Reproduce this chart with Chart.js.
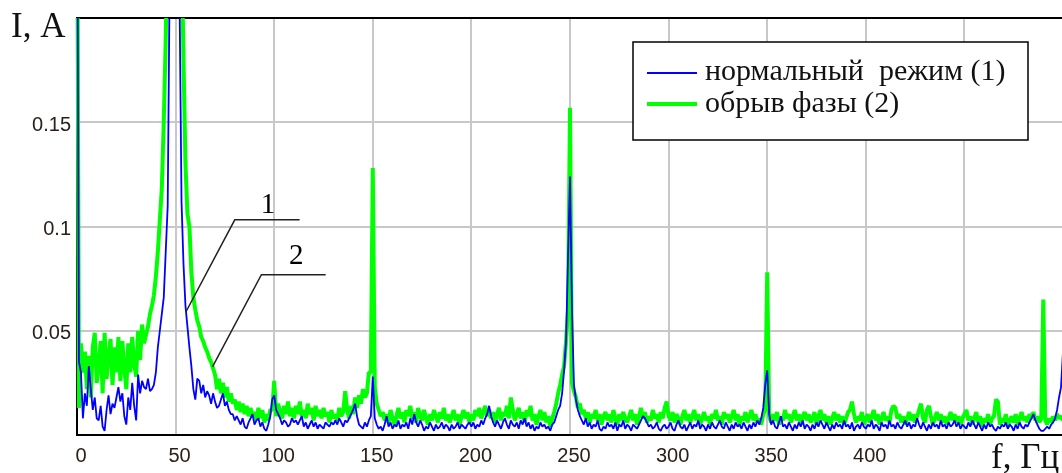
<!DOCTYPE html>
<html><head><meta charset="utf-8">
<script src="https://cdn.jsdelivr.net/npm/chart.js@4.4.1/dist/chart.umd.min.js"></script>
<style>html,body{margin:0;padding:0;overflow:hidden;background:#fff}</style>
</head><body>
<canvas id="c" width="1072" height="473"></canvas>
<script>
// sampling step of the spectrum (Hz per sample)
const freqStepHz = 1;

// current spectrum, normal mode (1), A
const normalMode = [
0.300,0.035,0.030,0.008,0.020,0.014,0.033,0.022,0.012,0.018,
0.008,0.007,0.014,0.004,0.002,0.012,0.019,0.010,0.015,0.013,
0.018,0.023,0.016,0.020,0.009,0.005,0.018,0.012,0.025,0.014,
0.007,0.029,0.020,0.026,0.023,0.022,0.027,0.021,0.022,0.024,
0.030,0.042,0.050,0.058,0.066,0.088,0.110,0.220,0.300,0.330,
0.340,0.300,0.210,0.112,0.082,0.062,0.052,0.042,0.033,0.022,
0.017,0.027,0.026,0.020,0.024,0.018,0.021,0.019,0.015,0.020,
0.016,0.013,0.014,0.017,0.020,0.014,0.016,0.012,0.010,0.010,
0.007,0.009,0.007,0.005,0.008,0.004,0.003,0.006,0.008,0.010,
0.005,0.007,0.008,0.004,0.006,0.003,0.002,0.005,0.009,0.017,
0.019,0.012,0.010,0.008,0.005,0.007,0.006,0.004,0.005,0.008,
0.006,0.007,0.005,0.007,0.009,0.004,0.006,0.003,0.005,0.007,
0.004,0.006,0.003,0.005,0.004,0.003,0.006,0.005,0.004,0.006,
0.005,0.007,0.005,0.008,0.006,0.004,0.007,0.006,0.008,0.010,
0.012,0.015,0.009,0.005,0.004,0.003,0.006,0.004,0.007,0.009,
0.028,0.008,0.005,0.003,0.004,0.002,0.005,0.009,0.004,0.006,
0.003,0.005,0.004,0.007,0.003,0.005,0.004,0.006,0.003,0.008,
0.005,0.010,0.006,0.004,0.007,0.005,0.002,0.004,0.003,0.006,
0.004,0.002,0.005,0.003,0.004,0.006,0.003,0.005,0.004,0.002,
0.005,0.003,0.004,0.006,0.003,0.005,0.004,0.003,0.005,0.006,
0.004,0.006,0.003,0.005,0.004,0.007,0.005,0.008,0.010,0.014,
0.009,0.006,0.004,0.007,0.005,0.003,0.006,0.008,0.005,0.003,
0.007,0.005,0.004,0.006,0.003,0.007,0.005,0.008,0.004,0.006,
0.003,0.005,0.002,0.004,0.003,0.006,0.004,0.005,0.003,0.004,
0.002,0.005,0.006,0.009,0.012,0.014,0.020,0.031,0.045,0.085,
0.124,0.060,0.024,0.017,0.012,0.009,0.007,0.005,0.008,0.004,
0.006,0.003,0.005,0.004,0.007,0.003,0.002,0.004,0.003,0.006,
0.004,0.005,0.003,0.006,0.002,0.005,0.004,0.007,0.003,0.005,
0.004,0.002,0.005,0.004,0.003,0.005,0.007,0.009,0.008,0.006,
0.004,0.005,0.003,0.004,0.006,0.003,0.002,0.004,0.005,0.003,
0.004,0.006,0.003,0.002,0.005,0.007,0.004,0.003,0.005,0.002,
0.004,0.006,0.003,0.005,0.004,0.007,0.003,0.005,0.004,0.002,
0.005,0.003,0.006,0.004,0.003,0.005,0.007,0.004,0.003,0.006,
0.004,0.002,0.005,0.003,0.006,0.004,0.005,0.003,0.006,0.004,
0.002,0.005,0.003,0.006,0.004,0.007,0.005,0.008,0.013,0.024,
0.031,0.010,0.005,0.007,0.004,0.003,0.006,0.009,0.004,0.005,
0.003,0.006,0.004,0.002,0.005,0.003,0.006,0.004,0.007,0.003,
0.005,0.004,0.002,0.005,0.003,0.006,0.004,0.007,0.005,0.003,
0.006,0.004,0.002,0.005,0.003,0.006,0.004,0.005,0.003,0.007,
0.004,0.005,0.003,0.006,0.002,0.004,0.005,0.003,0.006,0.004,
0.003,0.005,0.004,0.007,0.003,0.005,0.004,0.002,0.006,0.004,
0.005,0.003,0.007,0.004,0.005,0.003,0.006,0.004,0.003,0.005,
0.007,0.004,0.006,0.003,0.005,0.004,0.008,0.005,0.003,0.006,
0.004,0.002,0.005,0.003,0.006,0.004,0.005,0.003,0.007,0.004,
0.005,0.003,0.006,0.004,0.005,0.007,0.004,0.006,0.003,0.005,
0.004,0.003,0.006,0.004,0.007,0.005,0.003,0.006,0.004,0.002,
0.005,0.003,0.006,0.004,0.005,0.003,0.002,0.004,0.003,0.005,
0.004,0.006,0.003,0.005,0.004,0.002,0.005,0.003,0.006,0.004,
0.003,0.005,0.004,0.006,0.008,0.010,0.007,0.005,0.003,0.002,
0.002,0.003,0.004,0.003,0.005,0.006,0.008,0.012,0.018,0.023,
0.040
];

// current spectrum, open phase (2), A
const phaseLoss = [
0.300,0.013,0.044,0.030,0.040,0.022,0.038,0.018,0.042,0.049,
0.025,0.033,0.045,0.020,0.049,0.027,0.038,0.046,0.024,0.042,
0.030,0.047,0.026,0.045,0.032,0.022,0.044,0.030,0.047,0.034,
0.028,0.050,0.036,0.053,0.044,0.048,0.052,0.058,0.062,0.067,
0.076,0.088,0.103,0.118,0.150,0.190,0.240,0.300,0.330,0.340,
0.340,0.330,0.300,0.240,0.180,0.130,0.106,0.100,0.078,0.066,
0.060,0.055,0.052,0.047,0.045,0.042,0.040,0.037,0.035,0.032,
0.029,0.022,0.027,0.020,0.025,0.018,0.023,0.016,0.020,0.015,
0.017,0.012,0.016,0.011,0.015,0.010,0.014,0.009,0.013,0.009,
0.011,0.007,0.013,0.008,0.012,0.006,0.010,0.007,0.012,0.012,
0.026,0.009,0.015,0.011,0.008,0.014,0.010,0.016,0.009,0.013,
0.008,0.014,0.010,0.016,0.009,0.012,0.008,0.015,0.010,0.013,
0.007,0.014,0.009,0.012,0.008,0.013,0.009,0.011,0.006,0.012,
0.008,0.010,0.007,0.013,0.009,0.011,0.021,0.012,0.008,0.014,
0.010,0.018,0.013,0.019,0.015,0.022,0.018,0.020,0.030,0.030,
0.128,0.023,0.015,0.012,0.009,0.011,0.007,0.010,0.006,0.012,
0.008,0.005,0.009,0.013,0.008,0.011,0.006,0.012,0.009,0.014,
0.008,0.011,0.006,0.013,0.009,0.007,0.012,0.008,0.005,0.010,
0.007,0.012,0.009,0.006,0.011,0.008,0.013,0.007,0.010,0.006,
0.009,0.012,0.007,0.010,0.005,0.009,0.012,0.008,0.011,0.006,
0.010,0.007,0.012,0.009,0.013,0.008,0.011,0.014,0.009,0.012,
0.008,0.011,0.006,0.010,0.013,0.007,0.011,0.009,0.014,0.008,
0.018,0.012,0.007,0.010,0.013,0.008,0.011,0.006,0.012,0.009,
0.014,0.007,0.010,0.005,0.009,0.012,0.007,0.011,0.006,0.009,
0.004,0.008,0.011,0.015,0.020,0.024,0.029,0.033,0.045,0.060,
0.157,0.025,0.021,0.018,0.013,0.015,0.010,0.012,0.008,0.011,
0.006,0.010,0.008,0.012,0.007,0.010,0.005,0.009,0.011,0.007,
0.010,0.006,0.012,0.008,0.005,0.010,0.007,0.011,0.008,0.006,
0.009,0.012,0.007,0.010,0.005,0.009,0.013,0.008,0.011,0.006,
0.009,0.007,0.012,0.008,0.010,0.006,0.011,0.008,0.013,0.016,
0.009,0.007,0.011,0.006,0.010,0.008,0.005,0.009,0.012,0.007,
0.010,0.006,0.009,0.012,0.007,0.010,0.005,0.008,0.011,0.007,
0.009,0.005,0.010,0.008,0.012,0.007,0.009,0.005,0.011,0.008,
0.010,0.006,0.009,0.012,0.007,0.010,0.005,0.009,0.007,0.011,
0.006,0.009,0.012,0.007,0.010,0.006,0.008,0.005,0.010,0.012,
0.078,0.009,0.006,0.010,0.007,0.011,0.005,0.009,0.007,0.012,
0.008,0.010,0.006,0.009,0.012,0.007,0.010,0.005,0.009,0.011,
0.007,0.010,0.006,0.008,0.011,0.005,0.009,0.012,0.007,0.010,
0.006,0.009,0.005,0.008,0.011,0.007,0.010,0.006,0.009,0.005,
0.008,0.011,0.012,0.016,0.010,0.006,0.009,0.007,0.011,0.005,
0.008,0.010,0.006,0.009,0.012,0.007,0.010,0.005,0.008,0.011,
0.007,0.009,0.006,0.012,0.014,0.013,0.008,0.010,0.006,0.009,
0.005,0.008,0.011,0.007,0.010,0.006,0.009,0.012,0.015,0.008,
0.006,0.012,0.014,0.009,0.005,0.008,0.011,0.007,0.010,0.006,
0.009,0.005,0.008,0.011,0.007,0.010,0.006,0.009,0.005,0.008,
0.010,0.012,0.007,0.009,0.005,0.008,0.011,0.006,0.009,0.004,
0.008,0.006,0.010,0.005,0.008,0.009,0.017,0.016,0.005,0.008,
0.006,0.010,0.004,0.007,0.009,0.006,0.010,0.005,0.008,0.011,
0.007,0.009,0.006,0.010,0.008,0.011,0.007,0.009,0.006,0.008,
0.065,0.007,0.005,0.008,0.006,0.009,0.007,0.010,0.008,0.009,
0.007
];

const xTickLabelsHz = [0, 50, 100, 150, 200, 250, 300, 350, 400];
const yTickLabelsA = [0.05, 0.1, 0.15];
const seriesLabels = ['нормальный  режим (1)', 'обрыв фазы (2)'];
const seriesColors = ['#0000ff', '#00ff00'];
const yAxisTitle = 'I, A';
const xAxisTitle = 'f, Гц';
const calloutTexts = ['1', '2'];

// callout anchors in data units (Hz, A)
const callouts = [
  {text: calloutTexts[0], at: [96.9, 0.1064], path: [[112.9, 0.1032], [80.0, 0.1032], [55.2, 0.059]]},
  {text: calloutTexts[1], at: [111.2, 0.0822], path: [[126.1, 0.0769], [93.5, 0.0769], [68.7, 0.0327]]}
];

const toPoints = arr => arr.map((v, i) => ({x: i * freqStepHz, y: v}));

const decor = {
  id: 'decor',
  beforeDatasetsDraw(chart) {
    const {ctx, chartArea: a} = chart;
    ctx.save();
    ctx.strokeStyle = '#000';
    ctx.lineWidth = 2;
    ctx.strokeRect(a.left, a.top, a.right - a.left, a.bottom - a.top);
    ctx.restore();
  },
  afterDatasetsDraw(chart) {
    const {ctx} = chart;
    const xs = chart.scales.x, ys = chart.scales.y;
    ctx.save();
    ctx.strokeStyle = '#222';
    ctx.lineWidth = 1.5;
    ctx.fillStyle = '#000';
    ctx.font = '29px "Liberation Serif"';
    ctx.textAlign = 'center';
    ctx.textBaseline = 'alphabetic';
    callouts.forEach(c => {
      ctx.beginPath();
      c.path.forEach((p, i) => {
        const px = xs.getPixelForValue(p[0]), py = ys.getPixelForValue(p[1]);
        if (i) ctx.lineTo(px, py); else ctx.moveTo(px, py);
      });
      ctx.stroke();
      ctx.fillText(c.text, xs.getPixelForValue(c.at[0]), ys.getPixelForValue(c.at[1]));
    });
    ctx.restore();
  },
  afterDraw(chart) {
    const {ctx} = chart;
    ctx.save();
    // legend box
    const bx = 633, by = 42, bw = 395, bh = 98;
    ctx.fillStyle = '#fff';
    ctx.fillRect(bx, by, bw, bh);
    ctx.strokeStyle = '#000';
    ctx.lineWidth = 1.5;
    ctx.strokeRect(bx, by, bw, bh);
    const rows = [{y: 73, base: 80, w: 1.8}, {y: 104, base: 112, w: 4}];
    chart.data.datasets.forEach((ds, i) => {
      ctx.strokeStyle = ds.borderColor;
      ctx.lineWidth = rows[i].w;
      ctx.beginPath();
      ctx.moveTo(647, rows[i].y);
      ctx.lineTo(697, rows[i].y);
      ctx.stroke();
      ctx.fillStyle = '#111';
      ctx.font = '30px "Liberation Serif"';
      ctx.textAlign = 'left';
      ctx.textBaseline = 'alphabetic';
      ctx.fillText(ds.label, 705, rows[i].base);
    });
    // axis titles
    ctx.fillStyle = '#111';
    ctx.font = '35px "Liberation Serif"';
    ctx.textAlign = 'left';
    ctx.fillText(yAxisTitle, 11, 37);
    ctx.fillText(xAxisTitle, 991, 468);
    ctx.restore();
  }
};

const tickFont = {family: '"Liberation Sans", Arial, sans-serif', size: 20};
const gridStyle = {color: '#c8c8c8', lineWidth: 2, drawTicks: false};

new Chart(document.getElementById('c'), {
  type: 'line',
  data: {
    datasets: [
      {label: seriesLabels[0], data: toPoints(normalMode), borderColor: seriesColors[0], borderWidth: 1.8,
       pointRadius: 0, tension: 0, borderJoinStyle: 'bevel', clip: {left: 3, top: 0, right: 0, bottom: 0}},
      {label: seriesLabels[1], data: toPoints(phaseLoss), borderColor: seriesColors[1], borderWidth: 4,
       pointRadius: 0, tension: 0, borderJoinStyle: 'bevel', clip: {left: 3, top: 0, right: 0, bottom: 0}}
    ]
  },
  options: {
    responsive: false,
    animation: false,
    devicePixelRatio: 1,
    layout: {padding: {top: 17, right: 1, left: 0, bottom: 0}},
    plugins: {legend: {display: false}, tooltip: {enabled: false}},
    scales: {
      x: {
        type: 'linear', min: 0, max: 500,
        afterFit(s) { s.height = 38; },
        grid: gridStyle,
        border: {display: false},
        ticks: {
          stepSize: 50, autoSkip: false, maxRotation: 0, padding: 9, labelOffset: 4,
          color: '#2a2018', font: tickFont,
          callback: v => xTickLabelsHz.includes(v) ? String(v) : ''
        }
      },
      y: {
        type: 'linear', min: 0, max: 0.2,
        afterFit(s) { s.width = 77; },
        grid: gridStyle,
        border: {display: false},
        ticks: {
          stepSize: 0.05, padding: 6, labelOffset: 3,
          color: '#2a2018', font: tickFont,
          callback: v => {
            const t = yTickLabelsA.find(a => Math.abs(a - v) < 1e-9);
            return t === undefined ? '' : String(t);
          }
        }
      }
    }
  },
  plugins: [decor]
});
</script>
</body></html>
